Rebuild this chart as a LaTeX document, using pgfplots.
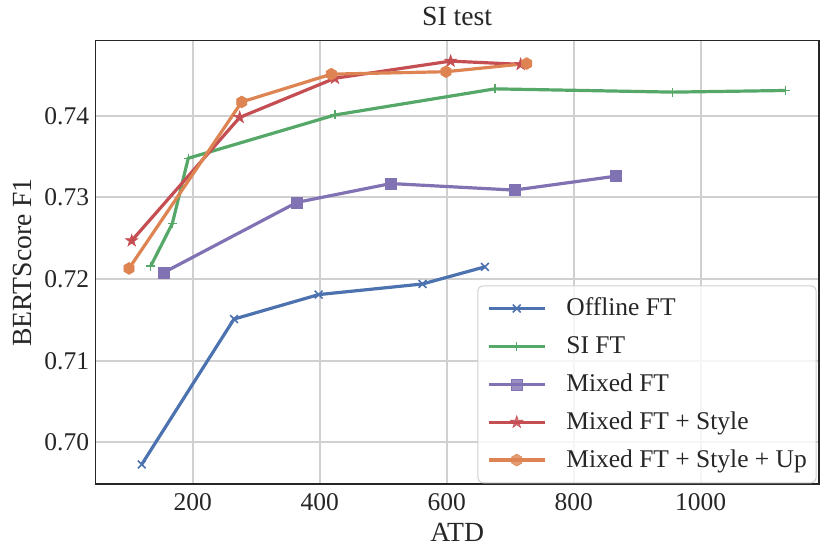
\documentclass[border=0pt]{standalone}
\usepackage{fontspec}
\setmainfont{Liberation Serif}
\usepackage{pgfplots}
\pgfplotsset{compat=1.18}
\definecolor{cblue}{HTML}{4C72B0}
\definecolor{cgreen}{HTML}{55A868}
\definecolor{cpurple}{HTML}{8172B3}
\definecolor{cred}{HTML}{C44E52}
\definecolor{corange}{HTML}{DD8452}
\definecolor{gridgray}{HTML}{D0D0D0}
\definecolor{darkgray}{HTML}{262626}
\pgfdeclareplotmark{hexagon*}{%
  \pgfpathmoveto{\pgfpointpolar{90}{\pgfplotmarksize}}%
  \pgfpathlineto{\pgfpointpolar{150}{\pgfplotmarksize}}%
  \pgfpathlineto{\pgfpointpolar{210}{\pgfplotmarksize}}%
  \pgfpathlineto{\pgfpointpolar{270}{\pgfplotmarksize}}%
  \pgfpathlineto{\pgfpointpolar{330}{\pgfplotmarksize}}%
  \pgfpathlineto{\pgfpointpolar{30}{\pgfplotmarksize}}%
  \pgfpathclose\pgfusepathqfillstroke}
\pgfdeclareplotmark{fstar}{%
  \pgfpathmoveto{\pgfpointpolar{90}{\pgfplotmarksize}}%
  \pgfpathlineto{\pgfpointpolar{126}{0.382\pgfplotmarksize}}%
  \pgfpathlineto{\pgfpointpolar{162}{\pgfplotmarksize}}%
  \pgfpathlineto{\pgfpointpolar{198}{0.382\pgfplotmarksize}}%
  \pgfpathlineto{\pgfpointpolar{234}{\pgfplotmarksize}}%
  \pgfpathlineto{\pgfpointpolar{270}{0.382\pgfplotmarksize}}%
  \pgfpathlineto{\pgfpointpolar{306}{\pgfplotmarksize}}%
  \pgfpathlineto{\pgfpointpolar{342}{0.382\pgfplotmarksize}}%
  \pgfpathlineto{\pgfpointpolar{18}{\pgfplotmarksize}}%
  \pgfpathlineto{\pgfpointpolar{54}{0.382\pgfplotmarksize}}%
  \pgfpathclose\pgfusepathqfillstroke}
\newcommand\bigfont{\fontsize{25.5bp}{30bp}\selectfont}
\newcommand\labfont{\fontsize{27.7bp}{32bp}\selectfont}
\begin{document}
\begin{tikzpicture}
\useasboundingbox (-95.7bp,-75bp) rectangle (734.3bp,484bp);
\begin{axis}[
  at={(0,0)}, anchor=south west,
  scale only axis, width=723bp, height=443.3bp,
  xmin=47.2, xmax=1186, ymin=0.6949, ymax=0.7492,
  xtick={200,400,600,800,1000},
  ytick={0.70,0.71,0.72,0.73,0.74},
  /pgf/number format/assume math mode=true,
  major tick length=0pt,
  grid=major,
  grid style={line width=2bp, color=gridgray},
  axis line style={line width=1.6bp, color=darkgray},
  tick label style={font=\bigfont, text=darkgray},
  yticklabel style={inner sep=0pt, anchor=east, xshift=-6.4bp, /pgf/number format/fixed, /pgf/number format/fixed zerofill, /pgf/number format/precision=2},
  xticklabel style={inner sep=0pt, anchor=north, yshift=-9.3bp, /pgf/number format/1000 sep={}},
  title={SI test},
  title style={font=\labfont, text=darkgray, at={(axis description cs:0.5,1.0203)}, anchor=base, inner sep=0pt},
  xlabel={ATD},
  xlabel style={font=\labfont, text=darkgray, at={(axis description cs:0.5,-0.130)}, anchor=base, inner sep=0pt},
  ylabel={BERTScore F1},
  ylabel style={font=\labfont, text=darkgray, at={(axis description cs:-0.0885,0.5)}, anchor=base, inner sep=0pt},
  every axis plot/.append style={line width=3.2bp},
  legend image code/.code={\draw[mark repeat=2,mark phase=2] plot coordinates {(0bp,0bp)(28bp,0bp)(56bp,0bp)};},
  legend cell align=left,
  legend style={at={(rel axis cs:1,0)}, anchor=south east, xshift=-2bp, yshift=0.7bp,
    font=\bigfont, text=darkgray,
    fill=white, fill opacity=0.8, text opacity=1, draw=gridgray, line width=1bp,
    rounded corners=5bp, inner xsep=9.3bp, inner ysep=3.75bp,
    row sep=0pt, column sep=20bp,
    nodes={inner sep=0pt, text height=26.25bp, text depth=11.65bp}},
]
\addplot[color=cblue, mark=x, mark size=5.5bp, mark options={solid, line width=1.6bp}]
  coordinates {(119.7,0.6973) (265,0.7151) (398.4,0.7181) (562,0.7194) (660.3,0.7215)};
\addlegendentry{Offline FT}
\addplot[color=cgreen, mark=+, mark size=4.5bp, mark options={solid, line width=1.5bp}]
  coordinates {(133.9,0.7216) (167.9,0.7268) (193,0.7348) (424,0.7401) (676,0.7433) (956,0.7429) (1133.8,0.7431)};
\addlegendentry{SI FT}
\addplot[color=cpurple, mark=square*, mark size=5.5bp, mark options={solid, line width=0.5bp, fill=cpurple}]
  coordinates {(154.3,0.7208) (364.3,0.7294) (512.3,0.7317) (706.5,0.7309) (866,0.7326)};
\addlegendentry{Mixed FT}
\addplot[color=cred, mark=fstar, mark size=6.5bp, mark options={solid, line width=0.5bp, fill=cred}]
  coordinates {(103.9,0.7247) (274,0.7398) (424,0.7446) (606.3,0.7467) (716.5,0.7463)};
\addlegendentry{Mixed FT + Style}
\addplot[color=corange, mark=hexagon*, mark size=6bp, mark options={solid, line width=0.5bp, fill=corange}]
  coordinates {(99.7,0.7213) (277.2,0.7417) (418.3,0.7451) (599,0.7454) (726,0.7464)};
\addlegendentry{Mixed FT + Style + Up}
\end{axis}
\end{tikzpicture}
\end{document}
